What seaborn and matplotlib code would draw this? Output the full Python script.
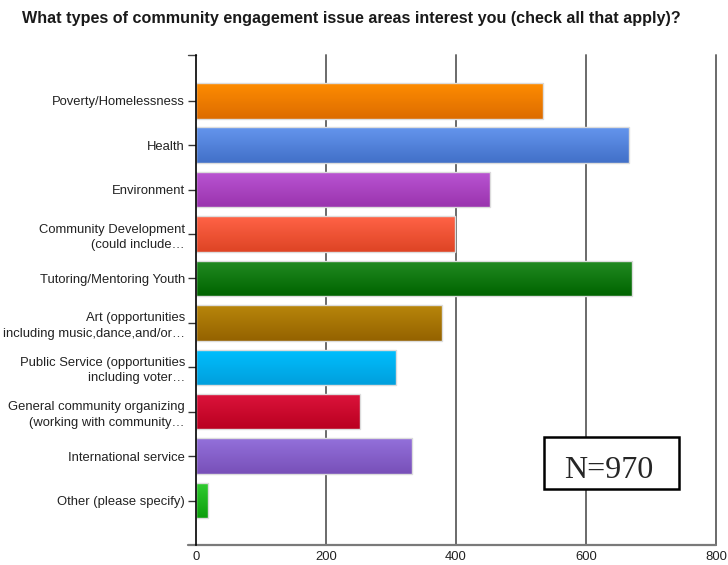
import numpy as np
import pandas as pd
import matplotlib
matplotlib.use("Agg")
import matplotlib.pyplot as plt
from matplotlib.colors import LinearSegmentedColormap
from matplotlib.lines import Line2D
from matplotlib.patches import Rectangle
import seaborn as sns

# Survey responses per issue area
categories = [
    "Poverty/Homelessness",
    "Health",
    "Environment",
    "Community Development\n(could include…",
    "Tutoring/Mentoring Youth",
    "Art (opportunities\nincluding music,dance,and/or…",
    "Public Service (opportunities\nincluding voter…",
    "General community organizing\n(working with community…",
    "International service",
    "Other (please specify)",
]
counts = [534, 666, 453, 399, 671, 378, 308, 252, 333, 19]
x_ticks = [0, 200, 400, 600, 800]
respondents = 970

# Gradient colours for each bar (top shade, bottom shade)
top_colors = ["#ff8c00", "#6495ed", "#ba55d3", "#ff6347", "#228b22",
              "#b8860b", "#00bfff", "#dc143c", "#9370db", "#32cd32"]
bottom_colors = ["#dc6c00", "#4270c8", "#9a34ae", "#de4424", "#006400",
                 "#946200", "#009fdc", "#ba0020", "#7850b8", "#0c9e0c"]

sns.set_style("white")
plt.rcParams["font.family"] = ["Liberation Sans", "DejaVu Sans"]

df = pd.DataFrame({"area": categories, "count": counts})

W, H = 728, 565
fig = plt.figure(figsize=(W / 100, H / 100), dpi=100)
ax = fig.add_axes([196 / W, 20 / H, 520 / W, 490 / H])

sns.barplot(data=df, x="count", y="area", hue="area", palette=top_colors,
            orient="h", width=0.80, legend=False, ax=ax, zorder=3)

# Replace flat fills with vertical gradients clipped to each bar
grad = np.linspace(0, 1, 64).reshape(-1, 1)
for patch, c_top, c_bot in zip(ax.patches, top_colors, bottom_colors):
    x0 = patch.get_x()
    w = patch.get_width()
    y0 = patch.get_y()
    h = patch.get_height()
    cmap = LinearSegmentedColormap.from_list("g", [c_top, c_bot])
    im = ax.imshow(grad, cmap=cmap, aspect="auto", origin="upper",
                   extent=(x0, x0 + w, y0 + h, y0), zorder=3,
                   interpolation="bilinear")
    im.set_clip_path(patch)
    patch.set_facecolor("none")
    patch.set_edgecolor("#dcdcdc")
    patch.set_linewidth(1.0)
    patch.set_zorder(4)

ax.set_xlim(0, 800)
ax.set_ylim(len(categories) - 1 + 1.0, -1.03)
ax.set_xticks(x_ticks)
ax.set_xticklabels([str(t) for t in x_ticks])
ax.set_xlabel("")
ax.set_ylabel("")

# Vertical gridlines
for t in x_ticks[1:]:
    ax.axvline(t, color="#6a6a6a", lw=1.4, zorder=1, clip_on=False)

for side in ["top", "right", "bottom"]:
    ax.spines[side].set_visible(False)
ax.spines["left"].set_color("black")
ax.spines["left"].set_linewidth(1.2)
ax.spines["left"].set_zorder(5)

# Bottom axis line, extended a little to the left
ax.add_line(Line2D([-8 / 520, 1.0], [0, 0], transform=ax.transAxes,
                   color="#7a7a7a", lw=1.6, clip_on=False, zorder=2))
# Small tick at the top of the category axis
ax.add_line(Line2D([-8 / 520, 0], [1, 1], transform=ax.transAxes,
                   color="#444444", lw=1.0, clip_on=False, zorder=2))

ax.tick_params(axis="y", length=6, width=1, color="#333333", pad=2,
               labelsize=9.4, labelcolor="#222222", left=True)
ax.tick_params(axis="x", length=0, pad=4.5, labelsize=9.4, labelcolor="#222222")
for lbl in ax.get_yticklabels():
    lbl.set_linespacing(1.4)
    lbl.set_horizontalalignment("right")
    lbl.set_multialignment("right")

fig.text(22 / W, 1 - 18 / H,
         "What types of community engagement issue areas interest you (check all that apply)?",
         fontsize=11.6, fontweight="bold", color="#1a1a1a", ha="left", va="center")

# Sample size annotation box
fig.add_artist(Rectangle((544 / W, 1 - 489 / H), 135 / W, 52 / H,
                         transform=fig.transFigure, facecolor="white",
                         edgecolor="black", linewidth=1.8, zorder=6))
fig.text(609 / W, 1 - 467.5 / H, f"N={respondents}", fontsize=23,
         family=["Liberation Serif", "DejaVu Serif"], ha="center",
         va="center_baseline", zorder=7)

fig.savefig("out.png", dpi=100, facecolor="white")
